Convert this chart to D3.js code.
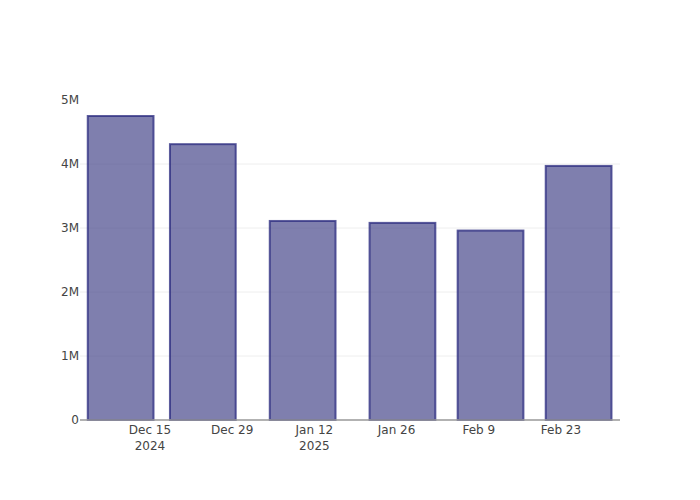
<!DOCTYPE html>
<html>
<head>
<meta charset="utf-8">
<script src="https://cdn.jsdelivr.net/npm/d3@7"></script>
<style>
  body { margin: 0; background: #fff; }
  text { font-family: "DejaVu Sans", sans-serif; }
</style>
</head>
<body>
<svg id="chart" width="700" height="500"></svg>
<script>
// Data
const dates = ["2024-12-10", "2024-12-24", "2025-01-10", "2025-01-27", "2025-02-11", "2025-02-26"];
const values = [4750000, 4310000, 3110000, 3080000, 2960000, 3970000];
const yTicks = [0, 1000000, 2000000, 3000000, 4000000, 5000000];
const yTickLabels = ["0", "1M", "2M", "3M", "4M", "5M"];
const xTicks = ["2024-12-15", "2024-12-29", "2025-01-12", "2025-01-26", "2025-02-09", "2025-02-23"];
const xTickLabels = [["Dec 15", "2024"], ["Dec 29"], ["Jan 12", "2025"], ["Jan 26"], ["Feb 9"], ["Feb 23"]];

const DAY = 86400000;
const parse = d3.utcParse("%Y-%m-%d");
const svg = d3.select("#chart");
const margin = {left: 80, right: 80, top: 100, bottom: 80};
const W = 700, H = 500;

const ref = parse("2024-12-15").getTime();
const x = d3.scaleUtc()
  .domain([new Date(ref - 11.92 * DAY), new Date(ref + 80.05 * DAY)])
  .range([margin.left, W - margin.right]);
const y = d3.scaleLinear().domain([0, 5000000]).range([H - margin.bottom, margin.top]);

// gridlines
svg.append("g").selectAll("line")
  .data(yTicks.filter(v => v > 0 && v < 5000000))
  .join("line")
  .attr("x1", margin.left).attr("x2", W - margin.right)
  .attr("y1", d => y(d)).attr("y2", d => y(d))
  .attr("stroke", "#eeeeee").attr("stroke-width", 1);

// bars
const barW = 0.8 * 14 * DAY;
svg.append("g").selectAll("rect")
  .data(dates.map((d, i) => ({t: parse(d).getTime(), v: values[i]})))
  .join("rect")
  .attr("x", d => x(new Date(d.t - barW / 2)))
  .attr("width", d => x(new Date(d.t + barW / 2)) - x(new Date(d.t - barW / 2)))
  .attr("y", d => y(d.v))
  .attr("height", d => y(0) - y(d.v))
  .attr("fill", "rgb(72,72,139)")
  .attr("fill-opacity", 0.7)
  .attr("stroke", "rgb(40,40,125)")
  .attr("stroke-opacity", 0.75)
  .attr("stroke-width", 2);

// x axis line
svg.append("line")
  .attr("x1", margin.left).attr("x2", W - margin.right)
  .attr("y1", y(0)).attr("y2", y(0))
  .attr("stroke", "#999").attr("stroke-width", 1.5);

// y tick labels
svg.append("g").selectAll("text")
  .data(yTicks)
  .join("text")
  .attr("x", margin.left - 1)
  .attr("y", d => y(d))
  .attr("dy", "0.35em")
  .attr("text-anchor", "end")
  .attr("font-size", 12)
  .attr("fill", "#444")
  .text((d, i) => yTickLabels[i]);

// x tick labels
const xg = svg.append("g").selectAll("text")
  .data(xTicks.map((d, i) => ({t: parse(d), lines: xTickLabels[i]})))
  .join("text")
  .attr("x", d => x(d.t))
  .attr("y", H - margin.bottom + 14)
  .attr("text-anchor", "middle")
  .attr("font-size", 12)
  .attr("fill", "#444");
xg.selectAll("tspan")
  .data(d => d.lines.map(l => ({l, xx: x(d.t)})))
  .join("tspan")
  .attr("x", d => d.xx)
  .attr("dy", (d, i) => i === 0 ? 0 : 16)
  .text(d => d.l);
</script>
</body>
</html>
